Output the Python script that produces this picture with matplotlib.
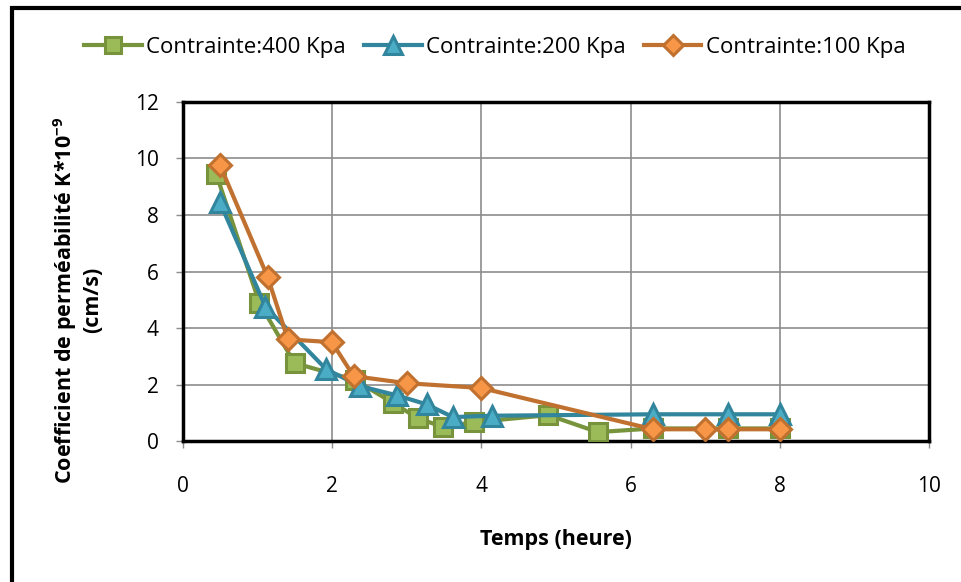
import matplotlib.pyplot as plt
from matplotlib.patches import Rectangle

plt.rcParams['font.family'] = ['Open Sans', 'DejaVu Sans']
plt.rcParams['mathtext.fontset'] = 'custom'
plt.rcParams['mathtext.bf'] = 'Open Sans:bold'
plt.rcParams['mathtext.rm'] = 'Open Sans'

# data
t_400 = [0.45, 1.03, 1.5, 2.31, 2.82, 3.15, 3.49, 3.9, 4.9, 5.56, 6.3, 7.3, 8.0]
k_400 = [9.45, 4.88, 2.76, 2.16, 1.35, 0.81, 0.5, 0.67, 0.92, 0.32, 0.45, 0.45, 0.45]

t_200 = [0.5, 1.11, 1.92, 2.37, 2.87, 3.27, 3.62, 4.14, 6.3, 7.3, 8.0]
k_200 = [8.45, 4.75, 2.55, 1.95, 1.62, 1.3, 0.85, 0.9, 0.95, 0.95, 0.95]

t_100 = [0.5, 1.14, 1.41, 2.0, 2.29, 3.0, 4.0, 6.3, 7.0, 7.3, 8.0]
k_100 = [9.77, 5.8, 3.6, 3.5, 2.3, 2.05, 1.88, 0.42, 0.42, 0.42, 0.42]

labels = ['Contrainte:400 Kpa', 'Contrainte:200 Kpa', 'Contrainte:100 Kpa']

fig = plt.figure(figsize=(9.61, 5.82), dpi=100)
ax = fig.add_axes([0.190, 0.242, 0.777, 0.583])

ax.plot(t_400, k_400, color='#77933C', lw=3, marker='s', ms=13,
        mfc='#9BBB59', mec='#77933C', mew=2.2, label=labels[0], zorder=3)
ax.plot(t_200, k_200, color='#31859C', lw=3, marker='^', ms=14,
        mfc='#4BACC6', mec='#31859C', mew=2.2, label=labels[1], zorder=4)
ax.plot(t_100, k_100, color='#C0712F', lw=3, marker='D', ms=11,
        mfc='#F79646', mec='#C0712F', mew=2.2, label=labels[2], zorder=5)

ax.set_xlim(0, 10)
ax.set_ylim(0, 12)
ax.set_xticks(range(0, 11, 2))
ax.set_yticks(range(0, 13, 2))
ax.grid(True, color='#8c8c8c', lw=1.2)
ax.set_axisbelow(True)
for s in ax.spines.values():
    s.set_linewidth(2.5)
    s.set_color('black')
ax.tick_params(labelsize=15, direction='out', length=5, width=1, color='#8c8c8c')
ax.tick_params(axis='x', pad=20)
ax.tick_params(axis='y', pad=12)

ax.set_xlabel('Temps (heure)', fontsize=15.5, fontweight='bold', labelpad=23)
ax.set_ylabel('Coefficient de perméabilité K*10$^{\\mathbf{-9}}$\n(cm/s)', fontsize=15.5,
              fontweight='bold', linespacing=1.15)
ax.yaxis.set_label_coords(-0.107, 0.416)

fig.legend(loc='center', bbox_to_anchor=(0.515, 0.919), ncol=3, frameon=False,
           fontsize=16, handlelength=2.6, columnspacing=0.8, handletextpad=0.2,
           markerscale=0.9)

fig.patches.append(Rectangle((0.012, -0.01), 1.0, 0.997, transform=fig.transFigure,
                             fill=False, edgecolor='black', lw=3))

fig.savefig('out.png', dpi=100)
